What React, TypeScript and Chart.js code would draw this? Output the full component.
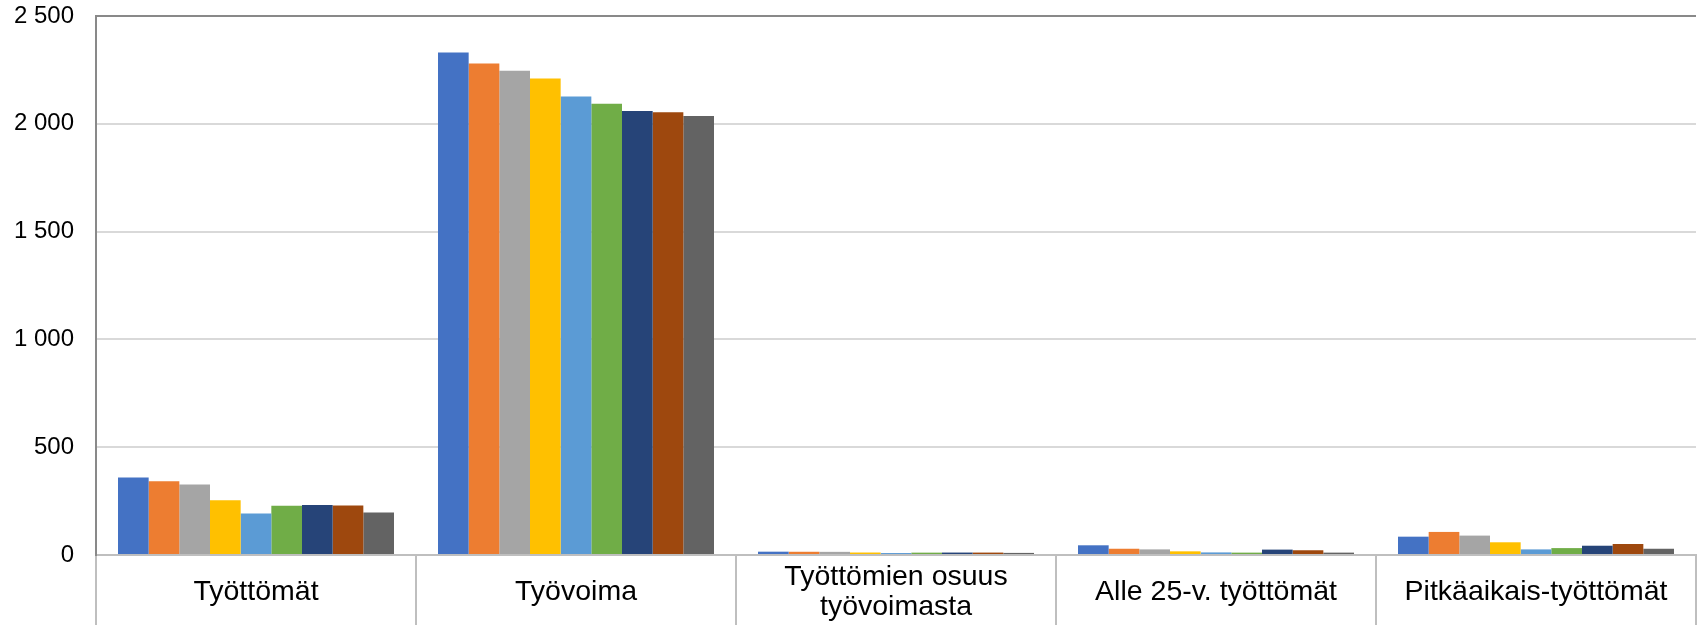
import React, { useEffect, useRef } from "react";
import { Chart, registerables } from "chart.js";

Chart.register(...registerables);

const categories: (string | string[])[] = [
  "Työttömät",
  "Työvoima",
  ["Työttömien osuus", "työvoimasta"],
  "Alle 25-v. työttömät",
  "Pitkäaikais-työttömät",
];

const seriesNames = ["Sarja1", "Sarja2", "Sarja3", "Sarja4", "Sarja5", "Sarja6", "Sarja7", "Sarja8", "Sarja9"];

const seriesColors = ["#4472C4", "#ED7D31", "#A5A5A5", "#FFC000", "#5B9BD5", "#70AD47", "#264478", "#9E480E", "#636363"];

// values per series, ordered by category
const s1 = [359, 2331, 15.4, 45, 85];
const s2 = [342, 2280, 15.0, 29, 107];
const s3 = [327, 2246, 14.6, 26, 90];
const s4 = [254, 2210, 11.5, 17, 59];
const s5 = [193, 2127, 9.1, 12, 26];
const s6 = [228, 2093, 10.9, 11, 32];
const s7 = [232, 2059, 11.3, 25, 43];
const s8 = [230, 2053, 11.2, 22, 51];
const s9 = [197, 2036, 9.7, 11, 29];

const seriesValues = [s1, s2, s3, s4, s5, s6, s7, s8, s9];

const yTicks = [0, 500, 1000, 1500, 2000, 2500];

const fmt = (v: number) => String(v).replace(/\B(?=(\d{3})+(?!\d))/g, " ");

export default function App() {
  const ref = useRef<HTMLCanvasElement | null>(null);

  useEffect(() => {
    document.body.style.margin = "0";
    if (!ref.current) return;
    const chart = new Chart(ref.current, {
      type: "bar",
      data: {
        labels: categories as any,
        datasets: seriesValues.map((vals, i) => ({
          label: seriesNames[i],
          data: vals,
          backgroundColor: seriesColors[i],
          borderWidth: 0,
          categoryPercentage: 0.8625,
          barPercentage: 1,
        })),
      },
      options: {
        animation: false,
        responsive: false,
        maintainAspectRatio: false,
        layout: { padding: { top: 16, left: 14, right: 1, bottom: 0 } },
        plugins: { legend: { display: false }, tooltip: { enabled: false } },
        scales: {
          x: {
            grid: {
              offset: true,
              drawOnChartArea: false,
              drawTicks: true,
              tickLength: 70,
              color: "#bfbfbf",
              lineWidth: 2,
            },
            border: { display: true, color: "#bfbfbf", width: 2 },
            ticks: {
              color: "#000000",
              font: { family: "'Liberation Sans', Arial, sans-serif", size: 28.5, lineHeight: 1.05 },
              maxRotation: 0,
              minRotation: 0,
              autoSkip: false,
              crossAlign: "center",
              padding: -48,
            },
            afterFit: (scale: any) => {
              scale.height = 70;
            },
          },
          y: {
            min: yTicks[0],
            max: yTicks[yTicks.length - 1],
            afterBuildTicks: (scale: any) => {
              scale.ticks = yTicks.map((v) => ({ value: v }));
            },
            afterFit: (scale: any) => {
              scale.width = 82;
            },
            grid: {
              drawTicks: true,
              tickLength: 22,
              tickColor: "rgba(0,0,0,0)",
              color: (ctx: any) => (ctx.tick && ctx.tick.value === 2500 ? "#898989" : "#d9d9d9"),
              lineWidth: 2,
            },
            border: { display: true, color: "#898989", width: 2 },
            ticks: {
              color: "#000000",
              font: { family: "'Liberation Sans', Arial, sans-serif", size: 24 },
              padding: 0,
              callback: (v: any) => fmt(Number(v)),
            },
          },
        },
      },
    });
    return () => chart.destroy();
  }, []);

  return (
    <div style={{ width: 1697, height: 625 }}>
      <canvas ref={ref} width={1697} height={625} style={{ display: "block" }} />
    </div>
  );
}
